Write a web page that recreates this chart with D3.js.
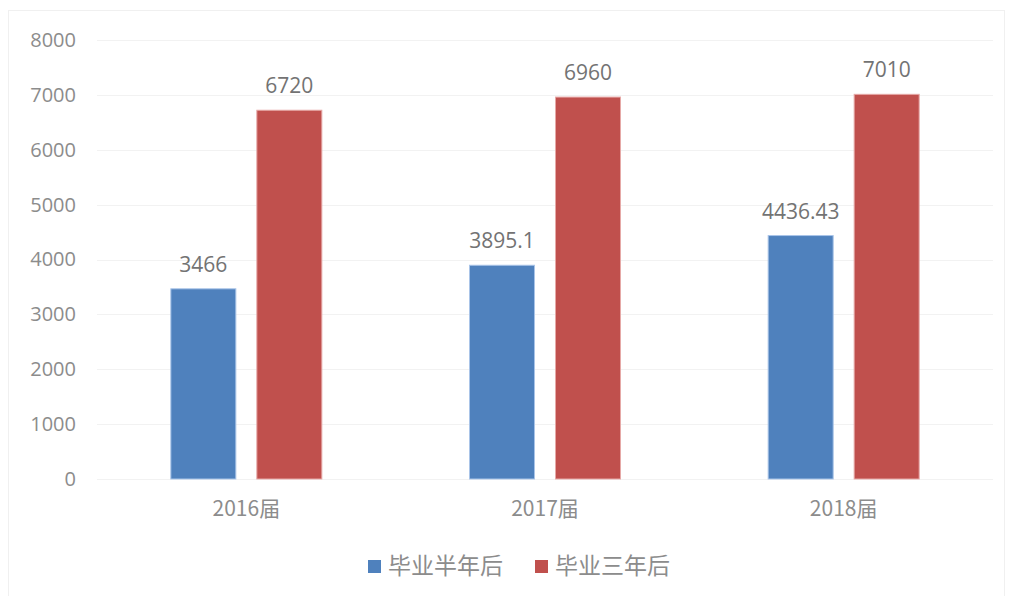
<!DOCTYPE html>
<html>
<head>
<meta charset="utf-8">
<script src="https://cdn.jsdelivr.net/npm/d3@7"></script>
<style>
  body { margin: 0; background: #fff; }
  text { font-family: "Noto Sans CJK SC", "Open Sans", sans-serif; }
</style>
</head>
<body>
<div id="chart"></div>
<script>
const categories = ["2016届", "2017届", "2018届"];
const seriesNames = ["毕业半年后", "毕业三年后"];
const halfYear = [3466, 3895.1, 4436.43];
const threeYear = [6720, 6960, 7010];
const yTicks = [0, 1000, 2000, 3000, 4000, 5000, 6000, 7000, 8000];
const colors = ["#4f81bd", "#c0504d"];
const strokes = ["#a9c4e8", "#e6a9a7"];

const width = 1010, height = 596;
const margin = { top: 40, right: 17, bottom: 117, left: 97 };

const svg = d3.select("#chart").append("svg")
    .attr("width", width)
    .attr("height", height);

// faint outer frame
svg.append("rect")
    .attr("x", 8.5).attr("y", 10.5)
    .attr("width", 996).attr("height", 600)
    .attr("fill", "none")
    .attr("stroke", "#f0f0f0");

const x = d3.scaleBand()
    .domain(categories)
    .range([margin.left, width - margin.right]);

const y = d3.scaleLinear()
    .domain([0, 8000])
    .range([height - margin.bottom, margin.top]);

// gridlines
svg.append("g")
    .selectAll("line")
    .data(yTicks)
    .join("line")
    .attr("x1", margin.left)
    .attr("x2", width - margin.right)
    .attr("y1", d => Math.round(y(d)) + 0.5)
    .attr("y2", d => Math.round(y(d)) + 0.5)
    .attr("stroke", "#f2f2f2");

// y axis labels
const yAxis = svg.append("g")
    .attr("transform", `translate(${margin.left},0)`)
    .call(d3.axisLeft(y).tickValues(yTicks).tickFormat(d3.format("d")).tickSize(0).tickPadding(21));
yAxis.select(".domain").remove();
yAxis.selectAll("text")
    .attr("fill", "#8c8c8c")
    .attr("font-size", 20)
    .style("font-family", "\"Open Sans\", sans-serif");

// x axis labels
const xAxis = svg.append("g")
    .attr("transform", `translate(0,${height - margin.bottom})`)
    .call(d3.axisBottom(x).tickSize(0).tickPadding(22));
xAxis.select(".domain").remove();
xAxis.selectAll("text")
    .attr("fill", "#8c8c8c")
    .attr("font-size", 21);

const series = [halfYear, threeYear];
const barW = 66, gap = 20;

series.forEach((vals, si) => {
    const offset = si === 0 ? -gap / 2 - barW : gap / 2;
    const g = svg.append("g");
    g.selectAll("rect")
        .data(vals)
        .join("rect")
        .attr("x", (d, i) => x.bandwidth() / 2 + x(categories[i]) + offset + 0.5)
        .attr("y", d => y(d))
        .attr("width", barW - 1)
        .attr("height", d => y(0) - y(d))
        .attr("fill", colors[si])
        .attr("stroke", strokes[si])
        .attr("stroke-width", 1);
    g.selectAll("text")
        .data(vals)
        .join("text")
        .attr("x", (d, i) => x.bandwidth() / 2 + x(categories[i]) + offset + barW / 2)
        .attr("y", d => y(d) - 17)
        .attr("text-anchor", "middle")
        .attr("fill", "#737373")
        .attr("font-size", 21)
        .style("font-family", "\"Open Sans\", sans-serif")
        .text(d => d);
});

// legend
const legend = svg.append("g").attr("transform", "translate(368,566)");
const legendX = [0, 167];
seriesNames.forEach((name, i) => {
    const item = legend.append("g").attr("transform", `translate(${legendX[i]},0)`);
    item.append("rect")
        .attr("x", 0).attr("y", -6)
        .attr("width", 13).attr("height", 13)
        .attr("fill", colors[i]);
    item.append("text")
        .attr("x", 20)
        .attr("y", 0)
        .attr("dy", "0.35em")
        .attr("fill", "#8c8c8c")
        .attr("font-size", 23)
        .text(name);
});
</script>
</body>
</html>
